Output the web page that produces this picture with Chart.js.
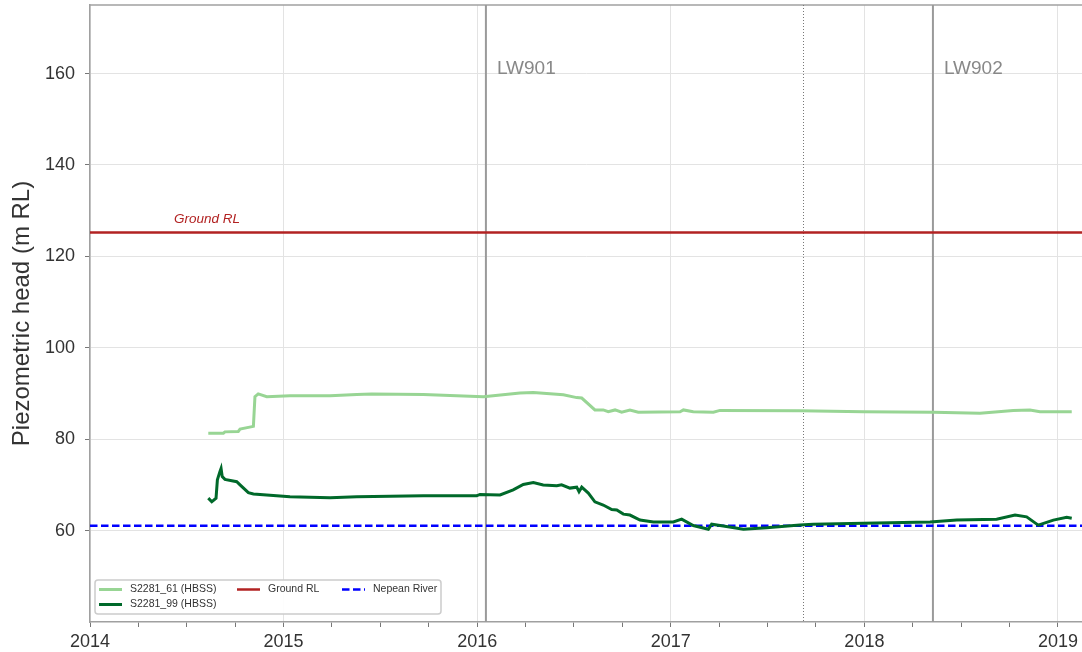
<!DOCTYPE html>
<html>
<head>
<meta charset="utf-8">
<script src="https://cdn.jsdelivr.net/npm/chart.js@4"></script>
<style>
  html, body { margin: 0; padding: 0; background: #fff; }
  #wrap { width: 1082px; height: 652px; }
</style>
</head>
<body>
<div id="wrap"><canvas id="myChart" width="1082" height="652"></canvas></div>
<script>
// decimal years
const yearTicks = [2014, 2015, 2016, 2017, 2018, 2019]

const s61Dates = [2014.611, 2014.689, 2014.697, 2014.766, 2014.775, 2014.844, 2014.852, 2014.869, 2014.913, 2015.033, 2015.240, 2015.378, 2015.455, 2015.722, 2016.032, 2016.221, 2016.290, 2016.445, 2016.514, 2016.540, 2016.608, 2016.651, 2016.677, 2016.712, 2016.746, 2016.789, 2016.832, 2017.048, 2017.065, 2017.116, 2017.220, 2017.254, 2017.667, 2017.994, 2018.356, 2018.597, 2018.769, 2018.855, 2018.907, 2019.071]
const s61Values = [81.3, 81.3, 81.6, 81.7, 82.2, 82.8, 89.3, 89.9, 89.3, 89.5, 89.5, 89.8, 89.9, 89.8, 89.3, 90.1, 90.2, 89.7, 89.1, 89.0, 86.4, 86.4, 86.0, 86.4, 85.9, 86.4, 85.9, 86.0, 86.4, 86.0, 85.9, 86.3, 86.2, 86.0, 85.9, 85.7, 86.3, 86.4, 86.0, 86.0]

const s99Dates = [2014.611, 2014.629, 2014.651, 2014.658, 2014.671, 2014.677, 2014.683, 2014.697, 2014.758, 2014.775, 2014.818, 2014.844, 2015.033, 2015.240, 2015.378, 2015.722, 2015.997, 2016.014, 2016.118, 2016.186, 2016.238, 2016.290, 2016.341, 2016.411, 2016.436, 2016.479, 2016.514, 2016.526, 2016.540, 2016.574, 2016.608, 2016.651, 2016.695, 2016.721, 2016.755, 2016.789, 2016.841, 2016.910, 2017.013, 2017.056, 2017.116, 2017.194, 2017.211, 2017.271, 2017.375, 2017.495, 2017.667, 2017.736, 2017.994, 2018.339, 2018.477, 2018.683, 2018.778, 2018.838, 2018.898, 2018.976, 2019.045, 2019.071]
const s99Values = [67.1, 66.3, 67.1, 71.1, 72.9, 73.6, 71.8, 71.2, 70.7, 70.0, 68.3, 68.0, 67.4, 67.2, 67.4, 67.6, 67.6, 67.9, 67.8, 68.9, 70.1, 70.5, 70.0, 69.8, 70.0, 69.3, 69.5, 68.5, 69.5, 68.2, 66.3, 65.6, 64.6, 64.5, 63.6, 63.4, 62.3, 61.9, 61.9, 62.5, 61.1, 60.3, 61.4, 61.0, 60.3, 60.6, 61.2, 61.4, 61.6, 61.9, 62.3, 62.5, 63.4, 63.0, 61.2, 62.3, 62.9, 62.7]

const groundRL = 125.2
const nepeanRiver = 61.05
const longwalls = [{ label: 'LW901', date: 2016.045 }, { label: 'LW902', date: 2018.354 }]
const dottedDate = 2017.683

const xMin = 2014, xMax = 2019.124
const yMin = 40, yMax = 175

const pts = (xs, ys) => xs.map((x, i) => ({ x: x, y: ys[i] }))

const context = document.querySelector('#myChart')

const overlays = {
  id: 'overlays',
  beforeDatasetsDraw(chart) {
    const { ctx, chartArea: a, scales: { x, y } } = chart
    ctx.save()
    // top frame
    ctx.strokeStyle = '#a0a0a0'
    ctx.lineWidth = 1.5
    ctx.beginPath()
    ctx.moveTo(a.left, a.top)
    ctx.lineTo(a.right, a.top)
    ctx.stroke()
    // longwall start lines
    longwalls.forEach(lw => {
      const px = x.getPixelForValue(lw.date)
      ctx.strokeStyle = '#9a9a9a'
      ctx.lineWidth = 2
      ctx.beginPath()
      ctx.moveTo(px, a.top)
      ctx.lineTo(px, a.bottom)
      ctx.stroke()
      ctx.fillStyle = '#888'
      ctx.font = '19px "Liberation Sans", Arial, sans-serif'
      ctx.textBaseline = 'middle'
      ctx.textAlign = 'left'
      ctx.fillText(lw.label, px + 11, y.getPixelForValue(161))
    })
    const dx = x.getPixelForValue(dottedDate)
    ctx.strokeStyle = '#777'
    ctx.lineWidth = 1
    ctx.setLineDash([1, 2])
    ctx.beginPath()
    ctx.moveTo(Math.round(dx) + 0.5, a.top)
    ctx.lineTo(Math.round(dx) + 0.5, a.bottom)
    ctx.stroke()
    ctx.setLineDash([])
    ctx.restore()
  },
  afterDatasetsDraw(chart) {
    const { ctx, chartArea: a, scales: { x, y } } = chart
    ctx.save()
    ctx.fillStyle = '#b22222'
    ctx.font = 'italic 13.5px "Liberation Sans", Arial, sans-serif'
    ctx.textBaseline = 'bottom'
    ctx.textAlign = 'left'
    ctx.fillText('Ground RL', x.getPixelForValue(2014.434), y.getPixelForValue(groundRL) - 7)

    // legend box, matplotlib style (column order)
    const bx = a.left + 5, by = a.bottom - 42, bw = 346, bh = 34
    ctx.fillStyle = 'rgba(255,255,255,0.9)'
    ctx.strokeStyle = '#cccccc'
    ctx.lineWidth = 1.5
    ctx.beginPath()
    ctx.roundRect(bx, by, bw, bh, 3)
    ctx.fill()
    ctx.stroke()
    const items = [
      { ds: 0, col: 0, row: 0 },
      { ds: 1, col: 0, row: 1 },
      { ds: 2, col: 1, row: 0 },
      { ds: 3, col: 2, row: 0 }
    ]
    const colX = [bx + 4, bx + 142, bx + 247]
    ctx.font = '10.5px "Liberation Sans", Arial, sans-serif'
    ctx.textBaseline = 'middle'
    items.forEach(it => {
      const ds = chart.data.datasets[it.ds]
      const lx = colX[it.col], ly = by + 9.5 + it.row * 15
      ctx.strokeStyle = ds.borderColor
      ctx.lineWidth = ds.borderWidth
      ctx.setLineDash(ds.borderDash || [])
      ctx.beginPath()
      ctx.moveTo(lx, ly)
      ctx.lineTo(lx + 23, ly)
      ctx.stroke()
      ctx.setLineDash([])
      ctx.fillStyle = '#333'
      ctx.fillText(ds.label, lx + 31, ly)
    })
    ctx.restore()
  }
}

const data = {
  datasets: [
    {
      label: 'S2281_61 (HBSS)',
      data: pts(s61Dates, s61Values),
      borderColor: '#98d594',
      borderWidth: 3
    },
    {
      label: 'S2281_99 (HBSS)',
      data: pts(s99Dates, s99Values),
      borderColor: '#00692a',
      borderWidth: 3
    },
    {
      label: 'Ground RL',
      data: pts([xMin, xMax], [groundRL, groundRL]),
      borderColor: '#b22222',
      borderWidth: 2.5
    },
    {
      label: 'Nepean River',
      data: pts([xMin, xMax], [nepeanRiver, nepeanRiver]),
      borderColor: '#0000ff',
      borderWidth: 2.5,
      borderDash: [7.5, 3.5]
    }
  ]
}

const config = {
  type: 'line',
  data: data,
  options: {
    responsive: false,
    animation: false,
    layout: { padding: { top: 5, right: 0, left: 0, bottom: 0 } },
    elements: { point: { radius: 0 }, line: { tension: 0, fill: false } },
    plugins: {
      legend: { display: false },
      tooltip: { enabled: false }
    },
    scales: {
      x: {
        type: 'linear',
        min: xMin,
        max: xMax,
        afterBuildTicks(scale) {
          const t = []
          for (let v = yearTicks[0]; v <= yearTicks[yearTicks.length - 1]; v += 0.25) t.push({ value: v })
          scale.ticks = t
        },
        afterFit(scale) {
          scale.height = 30
          scale.paddingLeft = 0
          scale.paddingRight = 0
        },
        ticks: {
          autoSkip: false,
          maxRotation: 0,
          padding: 4,
          color: '#333',
          font: { size: 18, family: '"Liberation Sans", Arial, sans-serif' },
          callback: v => yearTicks.includes(v) ? String(v) : ''
        },
        grid: {
          color: c => (c.tick && Number.isInteger(c.tick.value)) ? '#e3e3e3' : 'rgba(0,0,0,0)',
          tickColor: '#777',
          tickLength: 5
        },
        border: { color: '#a0a0a0', width: 1.5 }
      },
      y: {
        min: yMin,
        max: yMax,
        afterBuildTicks(scale) {
          scale.ticks = scale.ticks.filter(t => t.value >= 60 && t.value <= 160)
        },
        afterFit(scale) {
          scale.width = 90
          scale.paddingTop = 0
          scale.paddingBottom = 0
        },
        ticks: {
          stepSize: 20,
          padding: 10,
          color: '#333',
          font: { size: 18, family: '"Liberation Sans", Arial, sans-serif' }
        },
        grid: { color: '#e3e3e3', tickColor: '#777', tickLength: 5 },
        border: { color: '#a0a0a0', width: 1.5 },
        title: {
          display: true,
          text: 'Piezometric head (m RL)',
          color: '#333',
          font: { size: 24, family: '"Liberation Sans", Arial, sans-serif' },
          padding: { top: 8, bottom: 0 }
        }
      }
    }
  },
  plugins: [overlays]
}

new Chart(context, config)
</script>
</body>
</html>
